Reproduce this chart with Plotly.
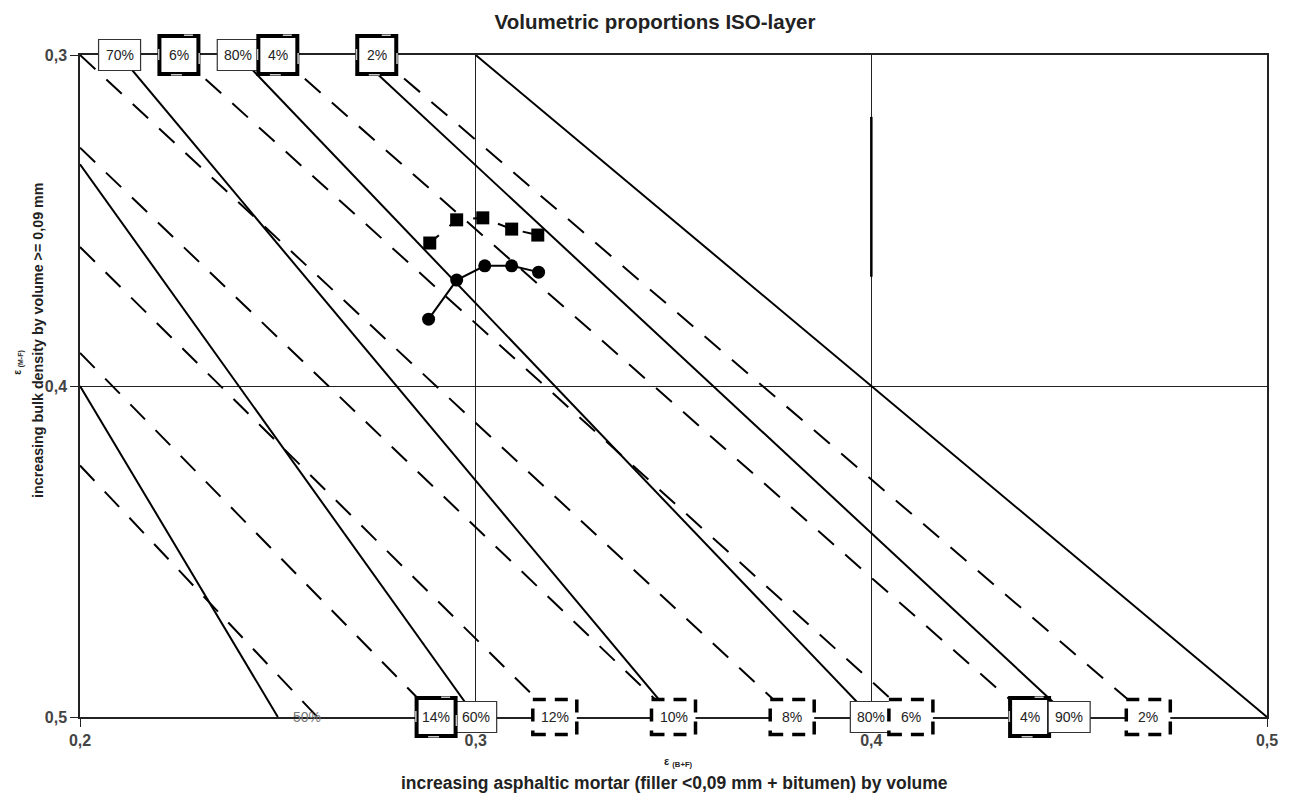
import plotly.graph_objects as go

FONT = "Liberation Sans, Arial, sans-serif"

# Filling-degree lines (solid): start point and end point of each line
fill_labels = ["50%", "60%", "70%", "80%", "90%", "100%"]
fill_x0 = [0.200, 0.200, 0.210, 0.240, 0.270, 0.300]
fill_y0 = [0.400, 0.333, 0.300, 0.300, 0.300, 0.300]
fill_x1 = [0.250, 0.300, 0.350, 0.400, 0.450, 0.500]
fill_y1 = [0.500, 0.500, 0.500, 0.500, 0.500, 0.500]

# Air-void lines (dashed): start point and end point of each line
void_labels = ["2%", "4%", "6%", "8%", "10%", "12%", "14%", "16%"]
void_x0 = [0.275, 0.250, 0.225, 0.200, 0.200, 0.200, 0.200, 0.200]
void_y0 = [0.300, 0.300, 0.300, 0.300, 0.328, 0.358, 0.390, 0.424]
void_x1 = [0.470, 0.440, 0.410, 0.380, 0.350, 0.320, 0.290, 0.260]
void_y1 = [0.500, 0.500, 0.500, 0.500, 0.500, 0.500, 0.500, 0.500]

# Measured mixtures
sq_x = [0.2884, 0.2952, 0.3018, 0.3091, 0.3157]
sq_y = [0.3568, 0.3498, 0.3492, 0.3526, 0.3544]
ci_x = [0.2881, 0.2952, 0.3023, 0.3091, 0.3159]
ci_y = [0.3798, 0.3680, 0.3637, 0.3637, 0.3656]

# Axis ticks
x_ticks = [0.2, 0.3, 0.4, 0.5]
x_ticktext = ["<b>0,2</b>", "<b>0,3</b>", "<b>0,4</b>", "<b>0,5</b>"]
y_ticks = [0.3, 0.4, 0.5]
y_ticktext = ["<b>0,3</b>", "<b>0,4</b>", "<b>0,5</b>"]

fig = go.Figure()

for i in range(len(fill_labels)):
    fig.add_trace(go.Scatter(
        x=[fill_x0[i], fill_x1[i]], y=[fill_y0[i], fill_y1[i]],
        mode="lines", line=dict(color="black", width=2),
        hoverinfo="skip", showlegend=False))

for i in range(len(void_labels)):
    fig.add_trace(go.Scatter(
        x=[void_x0[i], void_x1[i]], y=[void_y0[i], void_y1[i]],
        mode="lines", line=dict(color="black", width=2, dash="21px,15px"),
        hoverinfo="skip", showlegend=False))

fig.add_trace(go.Scatter(
    x=sq_x, y=sq_y, mode="lines+markers",
    line=dict(color="black", width=2, dash="12px,14px"),
    marker=dict(symbol="square", size=13, color="black"),
    hoverinfo="skip", showlegend=False))
fig.add_trace(go.Scatter(
    x=ci_x, y=ci_y, mode="lines+markers",
    line=dict(color="black", width=2),
    marker=dict(symbol="circle", size=13, color="black"),
    hoverinfo="skip", showlegend=False))

shapes = []
annotations = []


def box(text, x, edge, style):
    """Label box centred on a line end at the top (paper y=1) or bottom (paper y=0) edge."""
    yp = 1 if edge == "top" else 0
    base = dict(type="rect", xref="x", yref="paper", xsizemode="pixel",
                ysizemode="pixel", xanchor=x, yanchor=yp, layer="above",
                fillcolor="white")
    if style == "thin":
        shapes.append(dict(base, x0=-21, x1=21, y0=-15.5, y1=15.5,
                           line=dict(color="#333", width=1.2)))
    elif style == "thick":
        shapes.append(dict(base, x0=-19.5, x1=19.5, y0=-19, y1=19,
                           line=dict(color="black", width=4)))
        # small light handles on the border
        for hx0, hx1, hy0, hy1 in [(-21, -19.5, -5, 6), (19.5, 21, -9, 2),
                                   (-8, 3, -20.5, -19), (5, 14, 19, 20.5)]:
            shapes.append(dict(base, x0=hx0, x1=hx1, y0=hy0, y1=hy1,
                               fillcolor="#c8c8c8", line=dict(width=0)))
    elif style == "dashed":
        shapes.append(dict(base, x0=-22, x1=22, y0=-17.5, y1=17.5,
                           line=dict(color="black", width=3.5, dash="13px,9px")))
    annotations.append(dict(text=text, x=x, y=yp, xref="x", yref="paper",
                            showarrow=False, xanchor="center", yanchor="middle",
                            font=dict(family=FONT, size=14, color="#222")))


# Top edge labels
box(fill_labels[2], fill_x0[2], "top", "thin")      # 70%
box(void_labels[2], void_x0[2], "top", "thick")     # 6%
box(fill_labels[3], fill_x0[3], "top", "thin")      # 80%
box(void_labels[1], void_x0[1], "top", "thick")     # 4%
box(void_labels[0], void_x0[0], "top", "thick")     # 2%

# Bottom edge labels
box(fill_labels[1], fill_x1[1], "bottom", "thin")   # 60%
box(void_labels[6], void_x1[6], "bottom", "thick")  # 14%
box(void_labels[5], void_x1[5], "bottom", "dashed") # 12%
box(void_labels[4], void_x1[4], "bottom", "dashed") # 10%
box(void_labels[3], void_x1[3], "bottom", "dashed") # 8%
box(fill_labels[3], fill_x1[3], "bottom", "thin")   # 80%
box(void_labels[2], void_x1[2], "bottom", "dashed") # 6%
box(void_labels[1], void_x1[1], "bottom", "thick")  # 4%
box(fill_labels[4], fill_x1[4], "bottom", "thin")   # 90%
box(void_labels[0], void_x1[0], "bottom", "dashed") # 2%

# 50% label sits to the right of its line end, without a box
annotations.append(dict(text=fill_labels[0], x=fill_x1[0], y=0, xref="x", yref="paper",
                        xshift=29, showarrow=False, xanchor="center", yanchor="middle",
                        font=dict(family=FONT, size=14, color="#777")))

# darker stretch of the 0,4 grid line
shapes.append(dict(type="line", xref="x", yref="y", x0=0.4, x1=0.4, y0=0.3187, y1=0.367,
                   line=dict(color="black", width=2.5), layer="above"))

# Axis titles
annotations.append(dict(text="<b>increasing asphaltic mortar (filler &lt;0,09 mm + bitumen) by volume</b>",
                        xref="paper", yref="paper", x=0.501, y=-0.0997, showarrow=False,
                        xanchor="center", yanchor="middle",
                        font=dict(family=FONT, size=17.5, color="#222")))
annotations.append(dict(text="<b>ε <sub>(B+F)</sub></b>", xref="paper", yref="paper",
                        x=0.5038, y=-0.068, showarrow=False, xanchor="center", yanchor="middle",
                        font=dict(family=FONT, size=11, color="#222")))
annotations.append(dict(text="<b>increasing bulk density by volume >= 0,09 mm</b>",
                        xref="paper", yref="paper", x=-0.0354, y=0.5695, showarrow=False,
                        textangle=-90, xanchor="center", yanchor="middle",
                        font=dict(family=FONT, size=14.3, color="#222")))
annotations.append(dict(text="<b>ε <sub>(M-F)</sub></b>", xref="paper", yref="paper",
                        x=-0.0525, y=0.536, showarrow=False, textangle=-90,
                        xanchor="center", yanchor="middle",
                        font=dict(family=FONT, size=10, color="#222")))

axis_common = dict(showline=True, linecolor="#222", linewidth=1.5, mirror=True,
                   showgrid=True, gridcolor="#222", gridwidth=1.3, zeroline=False,
                   ticks="outside", ticklen=8, tickwidth=1.2, tickcolor="#222",
                   tickfont=dict(family=FONT, size=16, color="#444"))

fig.update_layout(
    width=1295, height=796,
    margin=dict(l=80, r=28, t=55, b=79),
    plot_bgcolor="white", paper_bgcolor="white",
    showlegend=False,
    title=dict(text="<b>Volumetric proportions ISO-layer</b>", xref="container", yref="container",
               x=0.5058, y=0.972, xanchor="center", yanchor="middle",
               font=dict(family=FONT, size=20.5, color="#222")),
    xaxis=dict(axis_common, range=[0.2, 0.5], tickvals=x_ticks, ticktext=x_ticktext),
    yaxis=dict(axis_common, range=[0.5, 0.3], tickvals=y_ticks, ticktext=y_ticktext),
    shapes=shapes,
    annotations=annotations,
)

fig.write_html("out.html")
